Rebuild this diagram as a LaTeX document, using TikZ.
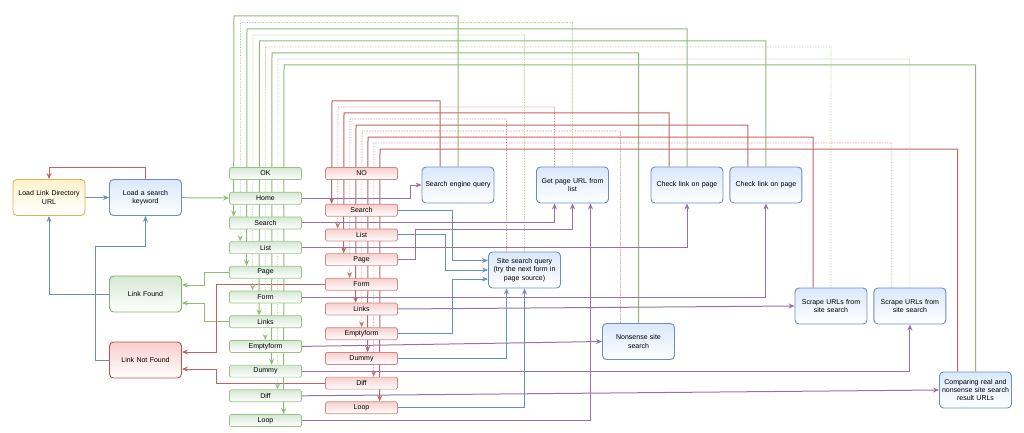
\documentclass[tikz,border=0pt]{standalone}
\usepackage{fontspec}
\setmainfont{Liberation Sans}
\usepackage{xcolor}
\usepackage{tikz}
\usetikzlibrary{positioning, arrows.meta, backgrounds}

\definecolor{blueline}{HTML}{6C8EBF}
\definecolor{bluefill}{HTML}{DAE8FC}
\definecolor{greenline}{HTML}{82B366}
\definecolor{greenfill}{HTML}{D5E8D4}
\definecolor{redline}{HTML}{B85450}
\definecolor{redfill}{HTML}{F8CECC}
\definecolor{yellowline}{HTML}{D6B656}
\definecolor{yellowfill}{HTML}{FFF2CC}
\definecolor{purpleline}{HTML}{9673A6}

\begin{document}
\begin{tikzpicture}[x=1pt, y=-1pt,
font=\fontsize{7}{8.4}\selectfont,
box/.style={rectangle, rounded corners=4pt, align=center, minimum width=72pt, minimum height=36pt, text width=68pt, inner sep=2pt, line width=0.9pt},
action/.style={box, draw=blueline, top color=bluefill, bottom color=white},
init/.style={box, draw=yellowline, top color=yellowfill, bottom color=white},
success/.style={box, draw=greenline, top color=greenfill, bottom color=white},
failure/.style={box, draw=redline, top color=redfill, bottom color=white},
cell/.style={rectangle, rounded corners=1.5pt, align=center, minimum width=72pt, minimum height=12pt, inner sep=0pt, line width=0.7pt},
okcell/.style={cell, draw=greenline!80, top color=greenfill, bottom color=white},
nocell/.style={cell, draw=redline!70, top color=redfill, bottom color=white},
tip/.style={-{Stealth[length=6pt, width=5pt]}},
okedge/.style={tip, draw=greenline!90, line width=1pt},
okdots/.style={tip, draw=greenline!80, line width=0.6pt, densely dotted},
noedge/.style={tip, draw=redline!90, line width=1pt},
nodots/.style={tip, draw=redline!80, line width=0.6pt, densely dotted},
purpedge/.style={tip, draw=purpleline, line width=1pt},
blueedge/.style={tip, draw=blueline, line width=1pt}]

    \useasboundingbox (0,0) rectangle (1024,433);

    \node[init] (dir) at (49,197.5) {Load Link Directory\\URL};
    \node[action] (keyword) at (145.5,197.5) {Load a search\\keyword};
    \node[success] (found) at (145.5,294) {Link Found};
    \node[failure] (notfound) at (145.5,360) {Link Not Found};

    % OK column
    \node[okcell] (ok) at (265.5,173.5) {OK};
    \node[okcell, below=12pt of ok] (okhome) {Home};
    \node[okcell, below=12pt of okhome] (oksearch) {Search};
    \node[okcell, below=12pt of oksearch] (oklist) {List};
    \node[okcell, below=12pt of oklist] (okpage) {Page};
    \node[okcell, below=12pt of okpage] (okform) {Form};
    \node[okcell, below=12pt of okform] (oklinks) {Links};
    \node[okcell, below=12pt of oklinks] (okempty) {Emptyform};
    \node[okcell, below=12pt of okempty] (okdummy) {Dummy};
    \node[okcell, below=12pt of okdummy] (okdiff) {Diff};
    \node[okcell, below=12pt of okdiff] (okloop) {Loop};

    % NO column
    \node[nocell] (no) at (361.5,173.5) {NO};
    \node[nocell, below=24pt of no] (nosearch) {Search};
    \node[nocell, below=12pt of nosearch] (nolist) {List};
    \node[nocell, below=12pt of nolist] (nopage) {Page};
    \node[nocell, below=12pt of nopage] (noform) {Form};
    \node[nocell, below=12pt of noform] (nolinks) {Links};
    \node[nocell, below=12pt of nolinks] (noempty) {Emptyform};
    \node[nocell, below=12pt of noempty] (nodummy) {Dummy};
    \node[nocell, below=12pt of nodummy] (nodiff) {Diff};
    \node[nocell, below=12pt of nodiff] (noloop) {Loop};

    \node[action] (engine) at (458,185) {Search engine query};
    \node[action] (geturl) at (572.5,185) {Get page URL from\\list};
    \node[action] (check1) at (687,185) {Check link on page};
    \node[action, right=6pt of check1] (check2) {Check link on page};
    \node[action] (sitesearch) at (524.5,270) {Site search query\\(try the next form in\\page source)};
    \node[action] (scrape1) at (831,306) {Scrape URLs from\\site search};
    \node[action, right=6pt of scrape1] (scrape2) {Scrape URLs from\\site search};
    \node[action] (nonsense) at (638.5,341.5) {Nonsense site\\search};
    \node[action] (compare) at (975.5,390) {Comparing real and\\nonsense site search\\result URLs};

    \begin{scope}[on background layer]
    % left part
    \draw[blueedge] (dir) -- (keyword);
    \draw[noedge] (keyword.north) -- ++(0,-12) -| (dir.north);
    \draw[okedge] (keyword) -- (okhome);
    \draw[blueedge] (found.west) -| (dir.south);
    \draw[blueedge] (notfound.west) -- ++(-13.5,0) |- (145.5,246) -- (keyword.south);
    \draw[okedge] (okpage.west) -- ++(-25,0) |- ([yshift=9pt]found.east);
    \draw[okedge] (oklinks.west) -- ++(-25,0) |- ([yshift=-9pt]found.east);
    \draw[noedge] (noform.west) -- ++(-108.5,0) |- ([yshift=8pt]notfound.east);
    \draw[noedge] (nodiff.west) -- ++(-108.5,0) |- ([yshift=-9pt]notfound.east);

    % back to the OK column
    \draw[okedge] (engine.north) |- (234,16) -- ([xshift=4.5pt]oksearch.north west);
    \draw[okdots] (geturl.north) |- (240.5,22.5) -- ([xshift=11pt]oklist.north west);
    \draw[okedge] (check1.north) |- (247,29) -- ([xshift=17.5pt]okpage.north west);
    \draw[okdots] (sitesearch.north) |- (253,35) -- ([xshift=23.5pt]okform.north west);
    \draw[okedge] (check2.north) |- (259.5,41) -- ([xshift=30pt]oklinks.north west);
    \draw[okdots] (scrape1.north) |- (265.5,47) -- ([xshift=36pt]okempty.north west);
    \draw[okedge] (nonsense.north) |- (272,53) -- ([xshift=42.5pt]okdummy.north west);
    \draw[okdots] (scrape2.north) |- (278,59) -- ([xshift=48.5pt]okdiff.north west);
    \draw[okedge] (compare.north) |- (284,65) -- ([xshift=54.5pt]okloop.north west);

    % back to the NO column
    \draw[noedge] ([xshift=-18pt]engine.north) |- (332,101) -- ([xshift=6.5pt]nosearch.north west);
    \draw[nodots] ([xshift=-18pt]geturl.north) |- (338,107) -- ([xshift=12.5pt]nolist.north west);
    \draw[noedge] ([xshift=-18pt]check1.north) |- (344,113) -- ([xshift=18.5pt]nopage.north west);
    \draw[nodots] ([xshift=-18pt]sitesearch.north) |- (350,119) -- ([xshift=24.5pt]noform.north west);
    \draw[noedge] ([xshift=-18pt]check2.north) |- (356,125) -- ([xshift=30.5pt]nolinks.north west);
    \draw[nodots] ([xshift=-18pt]nonsense.north) |- (362,131) -- ([xshift=36.5pt]noempty.north west);
    \draw[noedge] ([xshift=-18pt]scrape1.north) |- (368,137) -- ([xshift=42.5pt]nodummy.north west);
    \draw[nodots] ([xshift=-18pt]scrape2.north) |- (374,143) -- ([xshift=48.5pt]nodiff.north west);
    \draw[noedge] ([xshift=-18pt]compare.north) |- (380,149) -- ([xshift=54.5pt]noloop.north west);

    % purple connectors
    \draw[purpedge] (okhome.east) -- ++(108.5,0) |- (engine.west);
    \draw[purpedge] (oksearch.east) -| ([xshift=-18pt]geturl.south);
    \draw[purpedge] (nopage.east) -- ++(17.5,0) -- ++(0,-30) -| (geturl.south);
    \draw[purpedge] (okloop.east) -| ([xshift=18pt]geturl.south);
    \draw[purpedge] (oklist.east) -| (check1.south);
    \draw[purpedge] (okform.east) -| (check2.south);
    \draw[purpedge] (nolinks.east) -- (scrape1.west);
    \draw[purpedge] (okempty.east) -- (nonsense.west);
    \draw[purpedge] (okdummy.east) -| (scrape2.south);
    \draw[purpedge] (okdiff.east) -- (compare.west);

    % blue connectors
    \draw[blueedge] (nosearch.east) -- ++(54.5,0) |- ([yshift=9.5pt]sitesearch.west);
    \draw[blueedge] (nolist.east) -- ++(47.5,0) |- (sitesearch.west);
    \draw[blueedge] (noempty.east) -- ++(54.5,0) |- ([yshift=-9pt]sitesearch.west);
    \draw[blueedge] (nodummy.east) -| ([xshift=-18pt]sitesearch.south);
    \draw[blueedge] (noloop.east) -| (sitesearch.south);
    \end{scope}

\end{tikzpicture}
\end{document}
